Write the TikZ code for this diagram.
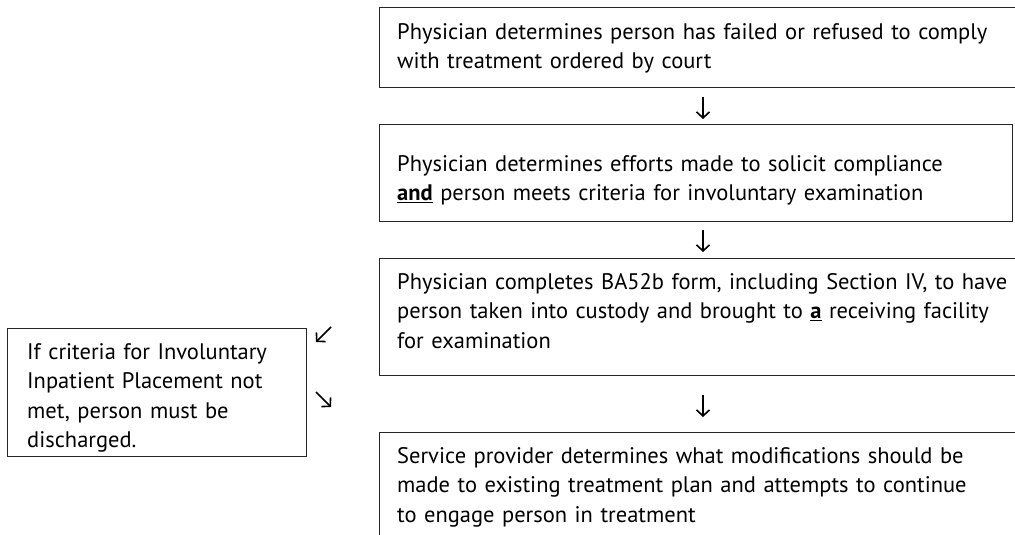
\documentclass[tikz,border=0pt]{standalone}
\usepackage{fontspec}
\setmainfont{PT Sans}
\usetikzlibrary{arrows.meta}
\tikzset{
  frame/.style={draw=black!85, line width=1.1pt, anchor=north west, inner sep=0pt},
  txt/.style={anchor=north west, align=left, inner sep=0pt, text width=640pt,
    font=\fontsize{22.5}{29.5}\selectfont},
  arr/.style={line width=1.6pt, -{Straight Barb[length=6pt,width=13pt,line width=1.6pt]}},
}
\begin{document}
\begin{tikzpicture}[x=1pt,y=-1pt]
\useasboundingbox (0,0) rectangle (1015,535);
% frames
\node[frame, minimum width=660pt, minimum height=80pt] (b1) at (379,7) {};
\node[frame, minimum width=633pt, minimum height=97pt] (b2) at (379,124) {};
\node[frame, minimum width=660pt, minimum height=117pt] (b3) at (379,258) {};
\node[frame, minimum width=660pt, minimum height=120pt] (b4) at (379,432) {};
\node[frame, minimum width=299pt, minimum height=128pt] (l) at (7,328) {};
% texts
\node[txt] (t1) at (397,23)
  {Physician determines person has failed or refused to comply\\with treatment ordered by court};
\node[txt] (t2) at (397,155)
  {Physician determines efforts made to solicit compliance\\\underline{\textbf{and}} person meets criteria for involuntary examination};
\node[txt] (t3) at (397,273)
  {Physician completes BA52b form, including Section IV, to have\\person taken into custody and brought to \underline{\textbf{a}} receiving facility\\for examination};
\node[txt] (t4) at (397,447)
  {Service provider determines what modifications should be\\made to existing treatment plan and attempts to continue\\to engage person in treatment};
\node[txt, text width=270pt] (tl) at (27,343)
  {If criteria for Involuntary\\Inpatient Placement not\\met, person must be\\discharged.};
% arrows
\coordinate (a1s) at (703,97);
\coordinate (a1e) at (703,119);
\coordinate (a2s) at (703,230);
\coordinate (a2e) at (703,252);
\coordinate (a3s) at (703,395);
\coordinate (a3e) at (703,417);
\coordinate (a4s) at (331,327);
\coordinate (a4e) at (316,342);
\coordinate (a5s) at (316,392);
\coordinate (a5e) at (331,407);
\draw[arr] (a1s) -- (a1e);
\draw[arr] (a2s) -- (a2e);
\draw[arr] (a3s) -- (a3e);
\draw[arr] (a4s) -- (a4e);
\draw[arr] (a5s) -- (a5e);
\end{tikzpicture}
\end{document}
